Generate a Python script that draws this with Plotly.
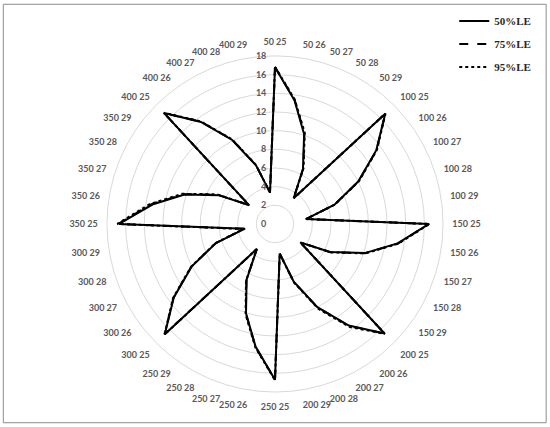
import plotly.graph_objects as go

categories = [
    "50 25", "50 26", "50 27", "50 28", "50 29",
    "100 25", "100 26", "100 27", "100 28", "100 29",
    "150 25", "150 26", "150 27", "150 28", "150 29",
    "200 25", "200 26", "200 27", "200 28", "200 29",
    "250 25", "250 26", "250 27", "250 28", "250 29",
    "300 25", "300 26", "300 27", "300 28", "300 29",
    "350 25", "350 26", "350 27", "350 28", "350 29",
    "400 25", "400 26", "400 27", "400 28", "400 29",
]

le50 = [16.8, 13.4, 10.1, 6.6, 3.4,
        16.7, 13.4, 10.0, 6.7, 3.35,
        16.5, 13.3, 10.1, 6.6, 3.35,
        16.6, 13.45, 10.0, 6.5, 3.2,
        16.7, 13.3, 10.05, 6.7, 3.3,
        16.7, 13.4, 10.0, 6.65, 3.25,
        16.7, 13.3, 10.2, 6.8, 3.4,
        16.8, 13.5, 10.1, 6.6, 3.4]

le75 = [16.8, 13.45, 10.2, 6.65, 3.4,
        16.7, 13.45, 10.05, 6.7, 3.35,
        16.5, 13.35, 10.15, 6.65, 3.35,
        16.6, 13.5, 10.05, 6.55, 3.2,
        16.7, 13.35, 10.1, 6.75, 3.3,
        16.7, 13.45, 10.05, 6.7, 3.35,
        16.8, 13.45, 10.3, 6.9, 3.45,
        16.8, 13.55, 10.15, 6.65, 3.4]

le95 = [16.85, 13.5, 10.3, 6.75, 3.45,
        16.75, 13.5, 10.1, 6.75, 3.4,
        16.55, 13.4, 10.2, 6.7, 3.4,
        16.65, 13.65, 10.2, 6.6, 3.25,
        16.75, 13.4, 10.2, 6.85, 3.35,
        16.75, 13.5, 10.1, 6.75, 3.45,
        16.9, 13.6, 10.45, 7.0, 3.5,
        16.85, 13.6, 10.2, 6.7, 3.45]

# drawn bottom to top; rank keeps the legend as 50, 75, 95
series = [
    ("95%LE", le95, "dot", 3),
    ("75%LE", le75, "dash", 2),
    ("50%LE", le50, "solid", 1),
]

fig = go.Figure()
for name, vals, dash, rank in series:
    fig.add_trace(go.Scatterpolar(
        r=vals + vals[:1],
        theta=categories + categories[:1],
        mode="lines",
        name=name,
        legendgroup=name,
        legendrank=rank,
        line=dict(color="black", width=2, dash=dash),
    ))

grid = "#d9d9d9"
lab = dict(family="Lato", size=9, color="#595959", weight="bold")
fig.update_layout(
    width=550, height=427,
    margin=dict(l=0, r=0, t=0, b=0),
    paper_bgcolor="white",
    font=dict(family="Lato", size=9, color="#595959"),
    polar=dict(
        domain=dict(x=[0.1945, 0.8055], y=[0.082, 0.869]),
        bgcolor="white",
        angularaxis=dict(
            type="category", categoryarray=categories,
            rotation=90, direction="clockwise",
            showgrid=False, showline=True, linecolor=grid, linewidth=1,
            ticks="outside", ticklen=7, tickcolor="rgba(0,0,0,0)",
            tickfont=lab,
        ),
        radialaxis=dict(
            range=[0, 18], dtick=2, angle=90, tickangle=90,
            side="counterclockwise",
            showline=False, ticks="outside", ticklen=5,
            tickcolor="rgba(0,0,0,0)", gridcolor=grid, gridwidth=1,
            tickfont=lab,
        ),
    ),
    legend=dict(
        x=0.975, y=0.985, xanchor="right", yanchor="top",
        traceorder="grouped", tracegroupgap=4,
        font=dict(family="Liberation Serif", size=11, color="#262626", weight="bold"),
        bgcolor="rgba(0,0,0,0)",
        itemwidth=30,
    ),
    shapes=[dict(type="rect", xref="paper", yref="paper",
                 x0=0.006, x1=0.993, y0=0.01, y1=0.99,
                 line=dict(color="#8c8c8c", width=1))],
)

fig.write_html("out.html", config={"displayModeBar": False},
               post_script="document.body.style.margin='0';")
